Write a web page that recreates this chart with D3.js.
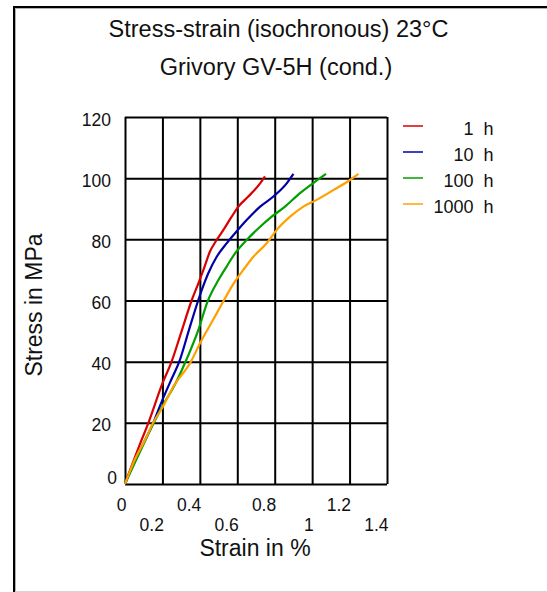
<!DOCTYPE html>
<html><head><meta charset="utf-8">
<script src="https://cdn.jsdelivr.net/npm/d3@7"></script>
<style>
body{margin:0;background:#fff}
text{font-family:"Liberation Sans",Arial,sans-serif;fill:#111}
</style>
</head><body>
<svg id="c" width="547" height="592"></svg>
<script>
// ---------- data ----------
const titleLines = ["Stress-strain (isochronous) 23°C", "Grivory GV-5H (cond.)"];
const xAxisTitle = "Strain in %";
const yAxisTitle = "Stress in MPa";
const xTicks = [0, 0.2, 0.4, 0.6, 0.8, 1, 1.2, 1.4];
const xTickLabels = ["0", "0.2", "0.4", "0.6", "0.8", "1", "1.2", "1.4"];
const yTicks = [0, 20, 40, 60, 80, 100, 120];
const yTickLabels = ["0", "20", "40", "60", "80", "100", "120"];
const seriesHours = ["1", "10", "100", "1000"];
const seriesColors = ["#d80000", "#0000a8", "#00a000", "#ffa000"];

const strain1h  = [0, 0.03, 0.07, 0.125, 0.2, 0.249, 0.3, 0.356, 0.392, 0.419, 0.454, 0.49, 0.525, 0.57, 0.606, 0.659, 0.722, 0.748];
const stress1h  = [0, 5, 11.5, 20, 32.9, 40, 49.5, 60, 65.6, 70, 76, 79.8, 83, 87.4, 90.7, 94, 98.3, 100.6];
const strain10h = [0, 0.03, 0.08, 0.151, 0.2, 0.25, 0.29, 0.34, 0.391, 0.41, 0.445, 0.49, 0.543, 0.588, 0.65, 0.722, 0.793, 0.864, 0.9];
const stress10h = [0, 4.5, 11, 20, 27.5, 34.5, 40, 50, 60, 63.4, 68.9, 74.3, 78.7, 82, 86.3, 90.7, 94, 98.3, 101.4];
const strain100h = [0, 0.03, 0.08, 0.15, 0.205, 0.267, 0.325, 0.392, 0.44, 0.499, 0.543, 0.588, 0.65, 0.722, 0.784, 0.855, 0.935, 1.033, 1.074];
const stress100h = [0, 4, 10.5, 19.5, 26, 32.5, 40.2, 50.4, 59.5, 66.7, 71.1, 75.4, 79.8, 84.1, 87.4, 90.7, 95.1, 99.6, 101.4];
const strain1000h = [0, 0.045, 0.116, 0.15, 0.2, 0.258, 0.352, 0.405, 0.47, 0.528, 0.58, 0.632, 0.686, 0.757, 0.811, 0.882, 0.953, 1.024, 1.113, 1.202, 1.247];
const stress1000h = [0, 7, 15.5, 20, 25, 31.8, 40, 46.5, 53.6, 60, 65.5, 70, 74.3, 78.7, 83.1, 87.4, 90.7, 92.9, 96.1, 99.4, 101.4];

const seriesStrain = [strain1h, strain10h, strain100h, strain1000h];
const seriesStress = [stress1h, stress10h, stress100h, stress1000h];

// ---------- chart ----------
const svg = d3.select("#c");
const L = 125, R = 387, T = 117, B = 484;
const x = d3.scaleLinear().domain([0, 1.4]).range([L, R]);
const y = d3.scaleLinear().domain([0, 120]).range([B, T]);

// page frame
svg.append("path").attr("d", "M14,592V7H547").attr("fill", "none").attr("stroke", "#000").attr("stroke-width", 2);
svg.append("path").attr("d", "M15.5,592V8.5H547").attr("fill", "none").attr("stroke", "#b0b0b0").attr("stroke-width", 1);
svg.append("line").attr("x1", 15).attr("x2", 547).attr("y1", 591.5).attr("y2", 591.5).attr("stroke", "#d4d4d4");

// titles
const titleX = [278.5, 276], titleY = [36.7, 75];
titleLines.forEach((t, i) => {
  svg.append("text").attr("x", titleX[i]).attr("y", titleY[i]).attr("text-anchor", "middle")
    .style("font-size", "23.5px").text(t);
});

// grid through axes
const gx = svg.append("g").attr("transform", `translate(0,${B})`)
  .call(d3.axisBottom(x).tickValues(xTicks).tickSize(-(B - T)).tickFormat(""));
const gy = svg.append("g").attr("transform", `translate(${L},0)`)
  .call(d3.axisLeft(y).tickValues(yTicks).tickSize(-(R - L)).tickFormat(""));
[gx, gy].forEach(g => {
  g.select(".domain").remove();
  g.selectAll(".tick line").attr("stroke", "#000").attr("stroke-width", 2);
});

// x tick labels (staggered)
svg.append("g").selectAll("text").data(xTicks).join("text")
  .attr("x", d => x(d) + 1.5)
  .attr("y", (d, i) => i % 2 === 0 ? B + 27 : B + 47)
  .attr("text-anchor", "end")
  .style("font-size", "17.5px")
  .text((d, i) => xTickLabels[i]);

// y tick labels
svg.append("g").selectAll("text").data(yTicks).join("text")
  .attr("x", d => d === 0 ? 117 : 111)
  .attr("y", d => d === 0 ? y(d) - 0.5 : y(d) + 8.5)
  .attr("text-anchor", "end")
  .style("font-size", "17.5px")
  .text((d, i) => yTickLabels[i]);

// axis titles
svg.append("text").attr("x", 255).attr("y", 556).attr("text-anchor", "middle")
  .style("font-size", "23px").text(xAxisTitle);
svg.append("text").attr("transform", "translate(42,305) rotate(-90)").attr("text-anchor", "middle")
  .style("font-size", "23px").text(yAxisTitle);

// curves
const line = d3.line().x(d => x(d[0])).y(d => y(d[1])).curve(d3.curveMonotoneX);
seriesStrain.forEach((s, i) => {
  const pts = s.map((v, j) => [v, seriesStress[i][j]]);
  svg.append("path").datum(pts).attr("d", line)
    .attr("fill", "none").attr("stroke", seriesColors[i]).attr("stroke-width", 2.2)
    .attr("stroke-linejoin", "round");
});

// legend
const lg = svg.append("g");
seriesHours.forEach((h, i) => {
  const ly = 126 + i * 26;
  lg.append("line").attr("x1", 403).attr("x2", 423).attr("y1", ly).attr("y2", ly)
    .attr("stroke", seriesColors[i]).attr("stroke-width", 1.5);
  lg.append("text").attr("x", 473.5).attr("y", ly + 9).attr("text-anchor", "end")
    .style("font-size", "18px").text(h);
  lg.append("text").attr("x", 493.5).attr("y", ly + 9).attr("text-anchor", "end")
    .style("font-size", "18px").text("h");
});
</script>
</body></html>
